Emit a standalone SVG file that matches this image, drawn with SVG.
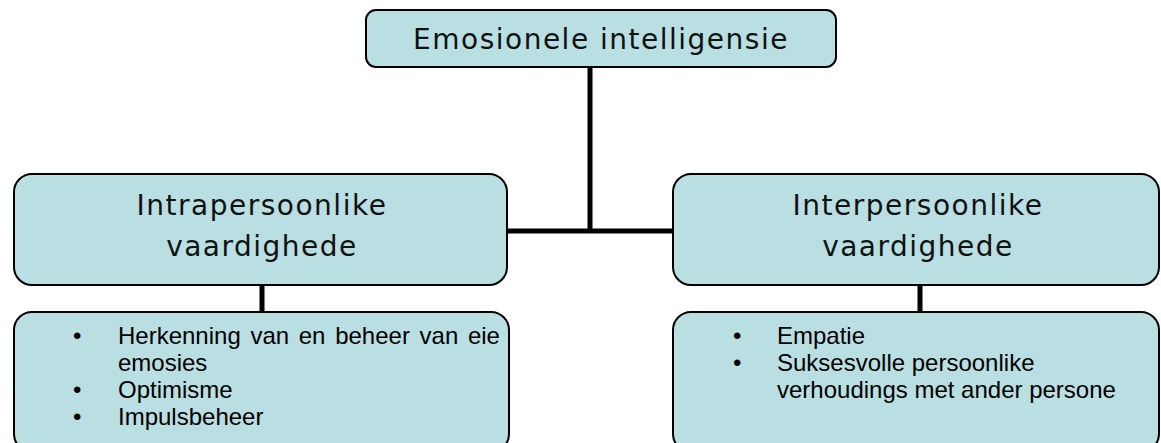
<svg xmlns="http://www.w3.org/2000/svg" width="1161" height="443" viewBox="0 0 1161 443">
<style>
.box{fill:#b9dfe3;stroke:#000;stroke-width:2}
.h{font-family:"DejaVu Sans",Verdana,sans-serif;font-size:28px;letter-spacing:1.5px;fill:#111;text-anchor:middle}
.b{font-family:"Liberation Sans",Arial,sans-serif;font-size:24px;fill:#000}
.c{stroke:#000;stroke-width:5;fill:none}
</style>
<rect width="1161" height="443" fill="#fff"/>
<g id="connectors">
<path class="c" d="M590 67V231M507 231H673M262 285V312M920 285V312"/>
</g>
<g id="root">
<rect class="box" x="366" y="10" width="470" height="57" rx="10"/>
<text class="h" x="601" y="49" font-size="30">Emosionele intelligensie</text>
</g>
<g id="intra">
<rect class="box" x="14" y="174" width="493" height="111" rx="18"/>
<text class="h" x="262" y="215">Intrapersoonlike</text>
<text class="h" x="262" y="256">vaardighede</text>
</g>
<g id="inter">
<rect class="box" x="673" y="174" width="486" height="111" rx="18"/>
<text class="h" x="918" y="215">Interpersoonlike</text>
<text class="h" x="918" y="256">vaardighede</text>
</g>
<g id="intra-list">
<rect class="box" x="14" y="312" width="495" height="140" rx="18"/>
<text class="b" x="73" y="344">•</text>
<text class="b" x="118" y="344" word-spacing="3">Herkenning van en beheer van eie</text>
<text class="b" x="118" y="371">emosies</text>
<text class="b" x="73" y="398">•</text>
<text class="b" x="118" y="398">Optimisme</text>
<text class="b" x="73" y="425">•</text>
<text class="b" x="118" y="425">Impulsbeheer</text>
</g>
<g id="inter-list">
<rect class="box" x="673" y="312" width="486" height="140" rx="18"/>
<text class="b" x="733" y="344">•</text>
<text class="b" x="777" y="344">Empatie</text>
<text class="b" x="733" y="371">•</text>
<text class="b" x="777" y="371">Suksesvolle persoonlike</text>
<text class="b" x="777" y="398">verhoudings met ander persone</text>
</g>
</svg>
